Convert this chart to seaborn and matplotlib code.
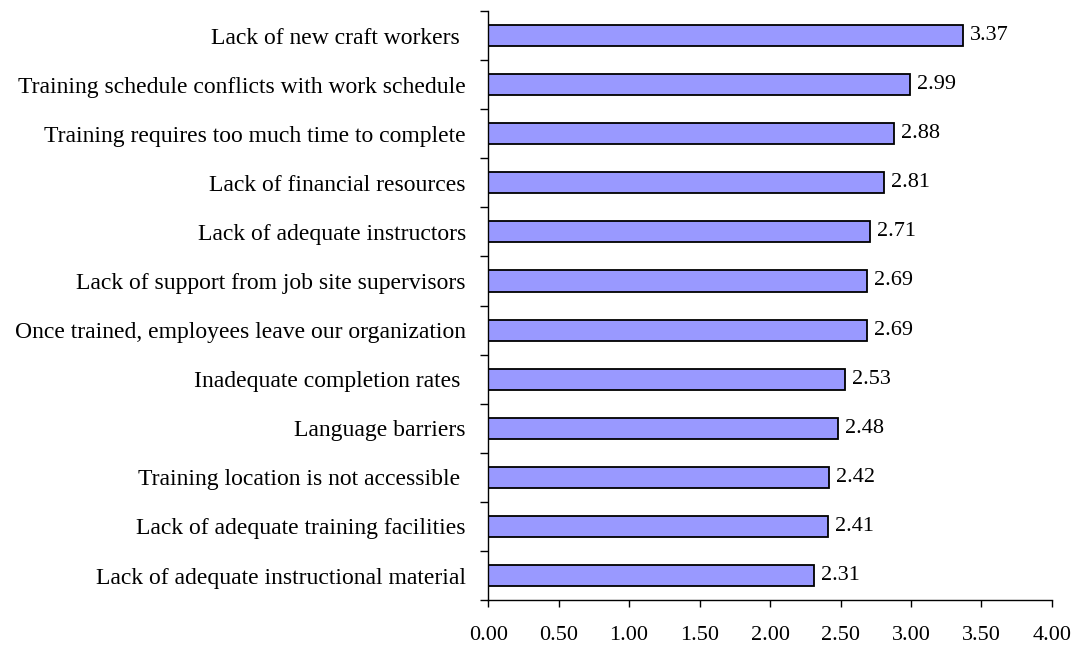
import matplotlib
matplotlib.use("Agg")
import matplotlib.pyplot as plt
import seaborn as sns
import pandas as pd
import numpy as np

barriers = [
    "Lack of new craft workers ",
    "Training schedule conflicts with work schedule",
    "Training requires too much time to complete",
    "Lack of financial resources",
    "Lack of adequate instructors",
    "Lack of support from job site supervisors",
    "Once trained, employees leave our organization",
    "Inadequate completion rates ",
    "Language barriers",
    "Training location is not accessible ",
    "Lack of adequate training facilities",
    "Lack of adequate instructional material",
]
scores = [3.37, 2.99, 2.88, 2.81, 2.71, 2.69, 2.69, 2.53, 2.48, 2.42, 2.41, 2.31]
x_ticks = [0.0, 0.5, 1.0, 1.5, 2.0, 2.5, 3.0, 3.5, 4.0]

sns.set_style("white")
plt.rcParams["font.family"] = ["Liberation Serif", "DejaVu Serif"]
plt.rcParams["text.color"] = "black"
plt.rcParams["xtick.color"] = "black"
plt.rcParams["ytick.color"] = "black"

df = pd.DataFrame({"barrier": barriers, "score": scores})

fig = plt.figure(figsize=(10.8, 6.48), dpi=100)
ax = fig.add_axes([0.452, 0.074, 0.522, 0.909])

sns.barplot(data=df, x="score", y="barrier", orient="h", ax=ax,
            color="#9999FF", saturation=1, width=0.43,
            edgecolor="black", linewidth=1.3)

ax.set_xlim(0, 4.0)
ax.set_ylim(len(barriers) - 0.5, -0.5)
ax.set_xticks(x_ticks)
ax.set_xticklabels([f"{t:.2f}" for t in x_ticks], fontsize=16)
ax.set_xlabel("")
ax.set_ylabel("")

# category labels without ticks; short ticks on the boundaries between categories
ax.set_yticks(range(len(barriers)))
ax.set_yticklabels(barriers, fontsize=17)
ax.set_yticks(np.arange(-0.5, len(barriers), 1.0), minor=True)
ax.tick_params(axis="y", which="major", left=True, length=0, pad=16)
ax.tick_params(axis="y", which="minor", left=True, length=5.5, width=1,
               color="black", direction="out")
ax.tick_params(axis="x", which="major", bottom=True, length=5, width=1,
               color="black", direction="out", pad=14)

for side in ["top", "right"]:
    ax.spines[side].set_visible(False)
for side in ["left", "bottom"]:
    ax.spines[side].set_color("black")
    ax.spines[side].set_linewidth(1)

for container in ax.containers:
    ax.bar_label(container, labels=[f"{v:.2f}" for v in scores],
                 padding=5, fontsize=16)

fig.savefig("out.png", dpi=100, facecolor="white")
